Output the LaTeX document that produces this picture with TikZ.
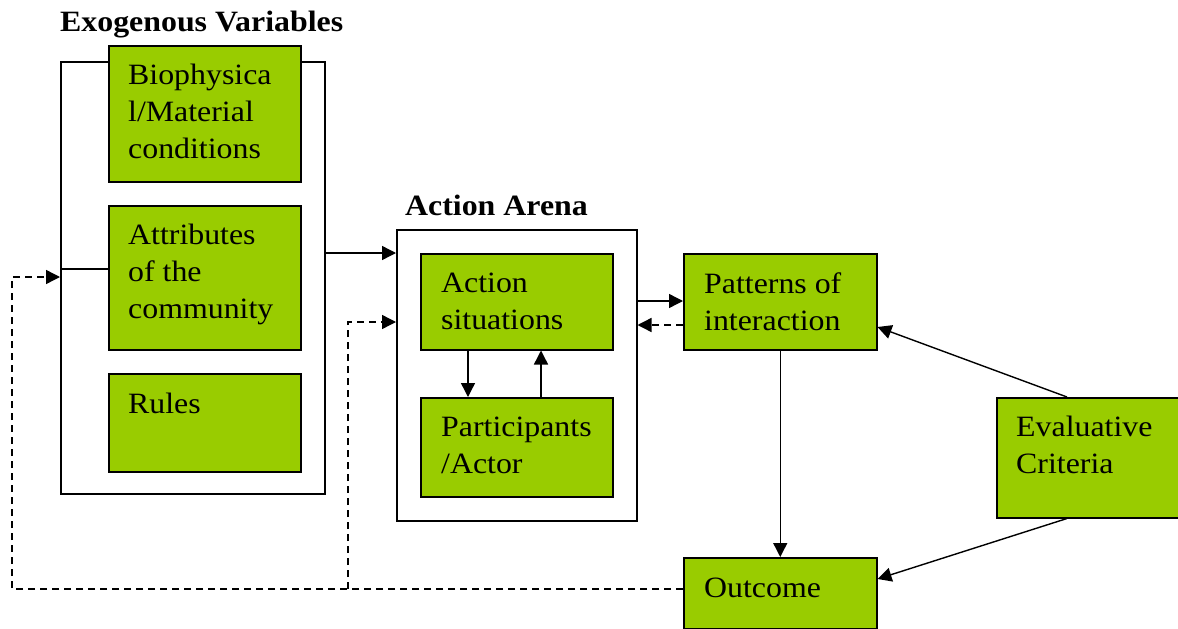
\documentclass[tikz,border=0pt]{standalone}
\usepackage{fontspec}
\setmainfont[FakeStretch=1.08]{Liberation Serif}
\usetikzlibrary{arrows.meta,calc}
\definecolor{leaf}{RGB}{153,204,0}
\begin{document}
\begin{tikzpicture}[x=1pt,y=-1pt,
  gbox/.style={draw,line width=1.5pt,fill=leaf,inner sep=0pt,anchor=north west},
  frame/.style={draw,line width=1.5pt,inner sep=0pt,anchor=north west},
  lbl/.style={anchor=north west,inner sep=0pt,align=left,
    font=\fontsize{29.5}{37}\selectfont,execute at begin node={\strut}},
  ttl/.style={anchor=base west,inner sep=0pt,
    font=\fontsize{29.5}{37}\selectfont\bfseries},
  conn/.style={line width=1.4pt,-{Triangle[length=14pt,width=14pt]}},
  fb/.style={conn,dash pattern=on 7pt off 5pt}]
\useasboundingbox (0,0) rectangle (1178,629);
\clip (0,0) rectangle (1178,629);

% exogenous variables
\node[ttl] (exot) at (60,31) {Exogenous Variables};
\node[frame,minimum width=264pt,minimum height=432pt] (exo) at (60,61) {};
\node[gbox,minimum width=192pt,minimum height=136pt] (bio) at (108,45) {};
\node[gbox,minimum width=192pt,minimum height=144pt] (attr) at (108,205) {};
\node[gbox,minimum width=192pt,minimum height=98pt] (rules) at (108,373) {};
% text blocks: first baseline about 38pt below the box top
\node[lbl] (biot) at ($(bio.north west)+(20,19)$) {Biophysica\\l/Material\\conditions};
\node[lbl] (attrt) at ($(attr.north west)+(20,19)$) {Attributes\\of the\\community};
\node[lbl] (rulest) at ($(rules.north west)+(20,14)$) {Rules};
\coordinate (jn) at (60,269);
\draw[line width=1.4pt] (jn) -- (jn -| attr.west);

% action arena
\node[ttl] (arenat) at (405,215) {Action Arena};
\node[frame,minimum width=240pt,minimum height=291pt] (arena) at (396,229) {};
\node[gbox,minimum width=192pt,minimum height=96pt] (sit) at (420,253) {};
\node[gbox,minimum width=192pt,minimum height=99pt] (part) at (420,397) {};
\node[lbl] (sitt) at ($(sit.north west)+(21,20)$) {Action\\situations};
\node[lbl] (partt) at ($(part.north west)+(21,20)$) {Participants\\/Actor};

% patterns, criteria, outcome
\node[gbox,minimum width=193pt,minimum height=96pt] (pat) at (683,253) {};
\node[gbox,minimum width=190pt,minimum height=120pt] (eval) at (996,397) {};
\node[gbox,minimum width=193pt,minimum height=71pt] (out) at (683,557) {};
\node[lbl] (patt) at ($(pat.north west)+(21,20)$) {Patterns of\\interaction};
\node[lbl] (evalt) at ($(eval.north west)+(20,19)$) {Evaluative\\Criteria};
\node[lbl] (outt) at ($(out.north west)+(21,14)$) {Outcome};

% connectors
\draw[conn] (exo.east |- 0,253) -- (arena.west |- 0,253);
\draw[conn] (sit.south -| 468,0) -- (part.north -| 468,0);
\draw[conn] (part.north -| 541,0) -- (sit.south -| 541,0);
\draw[conn] (arena.east |- 0,301) -- (pat.west |- 0,301);
\draw[fb] (pat.west |- 0,325) -- (arena.east |- 0,325);
\draw[conn] (pat.south) -- (out.north);
\draw[conn] (eval.north -| 1067,0) -- (pat.east |- 0,327);
\draw[conn] (eval.south -| 1067,0) -- (out.east |- 0,579);

% feedback from outcome
\coordinate (fbA) at (12,589);
\coordinate (fbB) at (348,589);
\draw[fb] (out.west |- fbA) -- (fbA) |- (exo.west |- 0,277);
\draw[fb] (fbB) |- (arena.west |- 0,322);
\end{tikzpicture}
\end{document}
